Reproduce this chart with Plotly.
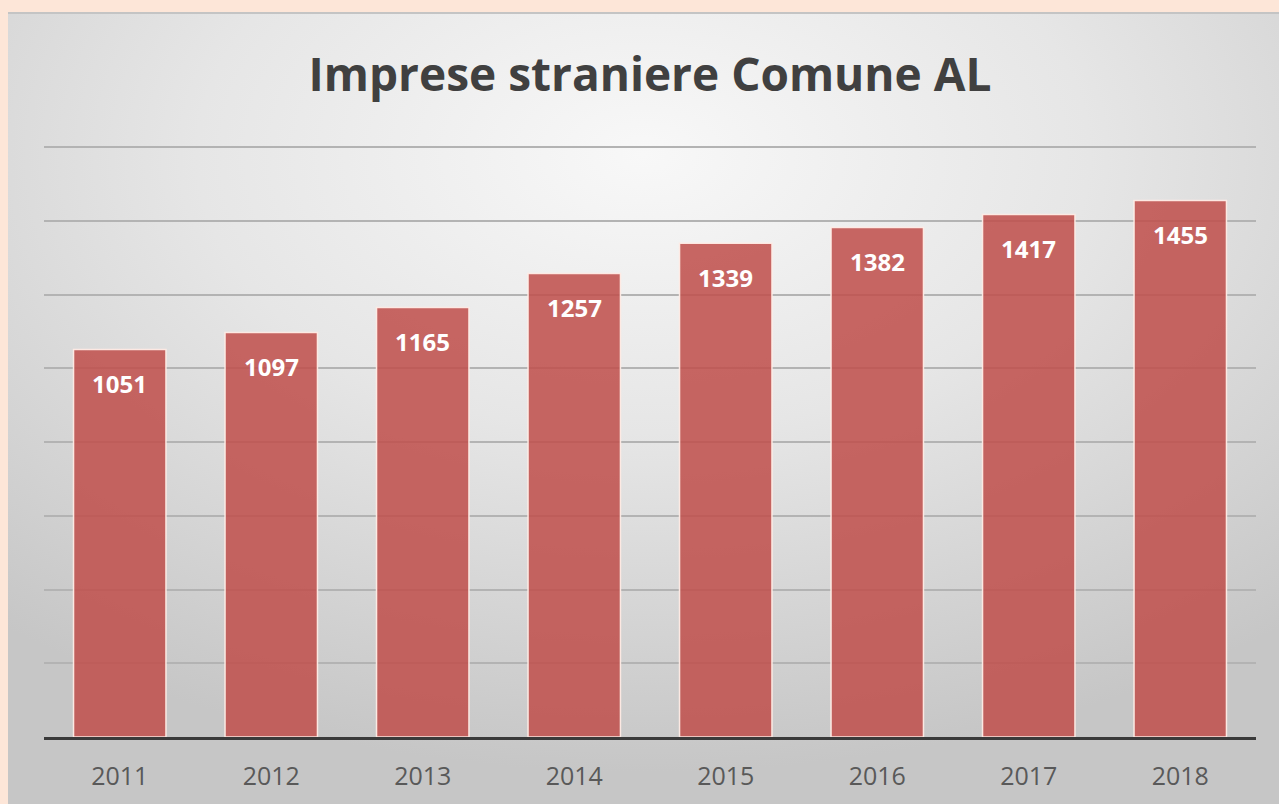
import plotly.graph_objects as go
import urllib.parse

years = ["2011", "2012", "2013", "2014", "2015", "2016", "2017", "2018"]
imprese = [1051, 1097, 1165, 1257, 1339, 1382, 1417, 1455]
title_text = "Imprese straniere Comune AL"

W, H = 1279, 804
L, R, T, B = 44, 23, 140, 67
pw, ph = W - L - R, H - T - B
ytop = 1600 * ph / 590.0

svg = (
    "<svg xmlns='http://www.w3.org/2000/svg' width='1271' height='792' preserveAspectRatio='none'>"
    "<defs><radialGradient id='g' cx='50%' cy='18%' r='78%'>"
    "<stop offset='0' stop-color='#f8f8f8'/>"
    "<stop offset='0.45' stop-color='#e6e6e6'/>"
    "<stop offset='1' stop-color='#c6c6c6'/>"
    "</radialGradient></defs>"
    "<rect width='1271' height='792' fill='url(#g)'/>"
    "<rect x='0' y='0' width='1271' height='2' fill='#c4c4c4'/>"
    "</svg>"
)
src = "data:image/svg+xml;charset=utf-8," + urllib.parse.quote(svg)

fig = go.Figure()
fig.add_trace(go.Bar(
    x=years, y=imprese,
    marker=dict(color="rgba(192,80,77,0.87)",
                line=dict(color="rgba(255,236,230,0.95)", width=1.5)),
    hoverinfo="x+y",
))

for i, v in enumerate(imprese):
    fig.add_annotation(x=i, y=v, text=f"<b>{v}</b>", showarrow=False,
                       yanchor="middle", yshift=-34,
                       font=dict(family="Open Sans, Arial", size=24, color="white"))

fig.add_layout_image(dict(
    source=src, xref="paper", yref="paper",
    x=(8 - L) / pw, y=(H - B - 12) / ph,
    sizex=(W - 8) / pw, sizey=(H - 12) / ph,
    xanchor="left", yanchor="top", sizing="stretch", layer="below",
))

fig.update_layout(
    width=W, height=H,
    margin=dict(l=L, r=R, t=T, b=B, autoexpand=False),
    paper_bgcolor="#fde6d8",
    plot_bgcolor="rgba(0,0,0,0)",
    bargap=0.39,
    showlegend=False,
    title=dict(text="<b>" + title_text + "</b>", x=0.5, xref="paper",
               y=1 - 75 / H, yanchor="middle",
               font=dict(family="Open Sans, Arial", size=46, color="#404040")),
    xaxis=dict(type="category", automargin=False, range=[-0.5, len(years) - 0.5],
               showline=True, linecolor="#3a3a3a", linewidth=3,
               ticks="", ticklabelstandoff=15,
               tickfont=dict(family="Open Sans, Arial", size=25, color="#595959"),
               showgrid=False),
    yaxis=dict(range=[0, ytop], dtick=200, showticklabels=False, automargin=False,
               showgrid=True, gridcolor="#b3b3b3", gridwidth=2,
               zeroline=False),
)

fig.write_html("out.html", config={"displayModeBar": False},
               post_script="document.body.style.margin='0';")
